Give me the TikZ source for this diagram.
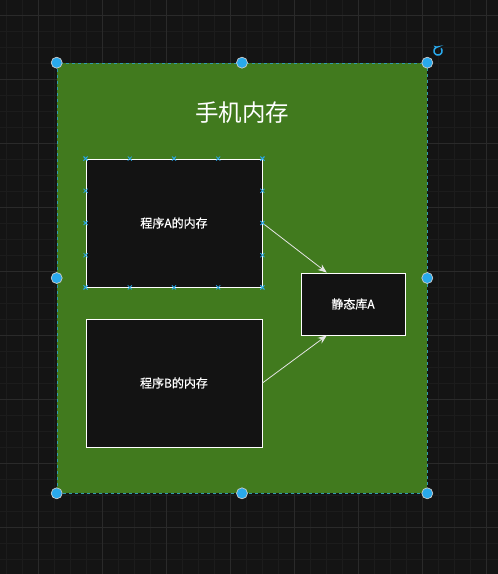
\documentclass[tikz,border=0pt]{standalone}
\usepackage{fontspec}
\newfontfamily\cjk{Noto Sans CJK SC}
\newfontfamily\cjkb[FakeBold=0.6]{Noto Sans CJK SC}
\usetikzlibrary{arrows.meta,calc}
\definecolor{bgc}{HTML}{141414}
\definecolor{minorg}{HTML}{1C1C1C}
\definecolor{majorg}{HTML}{2A2A2A}
\definecolor{greenc}{HTML}{417A1E}
\definecolor{boxc}{HTML}{131313}
\definecolor{selc}{HTML}{29A9EC}
\tikzset{
  box/.style={draw=white, fill=boxc, line width=0.9pt, inner sep=0pt, font=\cjkb\fontsize{12}{14}\selectfont, text=white},
  handle/.style={circle, fill=selc, draw=white!80!black, line width=0.7pt, minimum size=11pt, inner sep=0pt},
  cpt/.style={selc, line width=0.8pt},
  conn/.style={draw=white!90!black, line width=0.8pt, -{Stealth[length=9pt,width=7pt,inset=3pt]}}
}
\begin{document}
\begin{tikzpicture}[x=1pt,y=-1pt]
\useasboundingbox (0,0) rectangle (498,574);
\fill[bgc] (0,0) rectangle (498,574);
% minor grid
\foreach \i in {0,...,31} {
  \draw[minorg, line width=0.8pt] (6.3+16*\i,0) -- (6.3+16*\i,574);
}
\foreach \i in {0,...,36} {
  \draw[minorg, line width=0.8pt] (0,-0.7+16*\i) -- (498,-0.7+16*\i);
}
% major grid
\foreach \i in {0,...,7} {
  \draw[majorg, line width=0.9pt] (38.3+64*\i,0) -- (38.3+64*\i,574);
}
\foreach \i in {0,...,8} {
  \draw[majorg, line width=0.9pt] (0,15.3+64*\i) -- (498,15.3+64*\i);
}
% container
\node[fill=greenc, draw=selc!70!greenc, dashed, line width=0.6pt, minimum width=370pt, minimum height=430pt, inner sep=0pt] (mem) at (242,278) {};
\node[text=white, font=\cjk\fontsize{23.5}{27}\selectfont] (title) at (242,113) {手机内存};
% boxes
\node[box, minimum width=176pt, minimum height=128pt] (A) at (174,223) {程序A的内存};
\node[box, minimum width=176pt, minimum height=128pt] (B) at (174,383) {程序B的内存};
\node[box, minimum width=104pt, minimum height=62pt] (S) at (353,304) {静态库A};
% connectors
\draw[conn] (A.east) -- ($(S.north west)!0.25!(S.north east)$);
\draw[conn] (B.east) -- ($(S.south west)!0.25!(S.south east)$);
% connection points on A
\foreach \p in {0,0.25,0.5,0.75,1} {
    \path ($(A.north west)!\p!(A.north east)$) coordinate (t);
    \path ($(A.south west)!\p!(A.south east)$) coordinate (b);
    \path ($(A.north west)!\p!(A.south west)$) coordinate (l);
    \path ($(A.north east)!\p!(A.south east)$) coordinate (r);
    \foreach \c in {t,b,l,r} {
      \draw[cpt] ($(\c)+(-2,-2)$) -- ($(\c)+(2,2)$);
      \draw[cpt] ($(\c)+(-2,2)$) -- ($(\c)+(2,-2)$);
    }
}
% selection handles
\foreach \a in {north west,north,north east,west,east,south west,south,south east} {
  \node[handle] at (mem.\a) {};
}
% rotate icon
\draw[selc, line width=1.5pt, -{Stealth[length=3.5pt,width=4.5pt]}] plot[domain=40:-262, samples=40, smooth] ({438+4*cos(\x)},{51-4*sin(\x)});
\end{tikzpicture}
\end{document}
